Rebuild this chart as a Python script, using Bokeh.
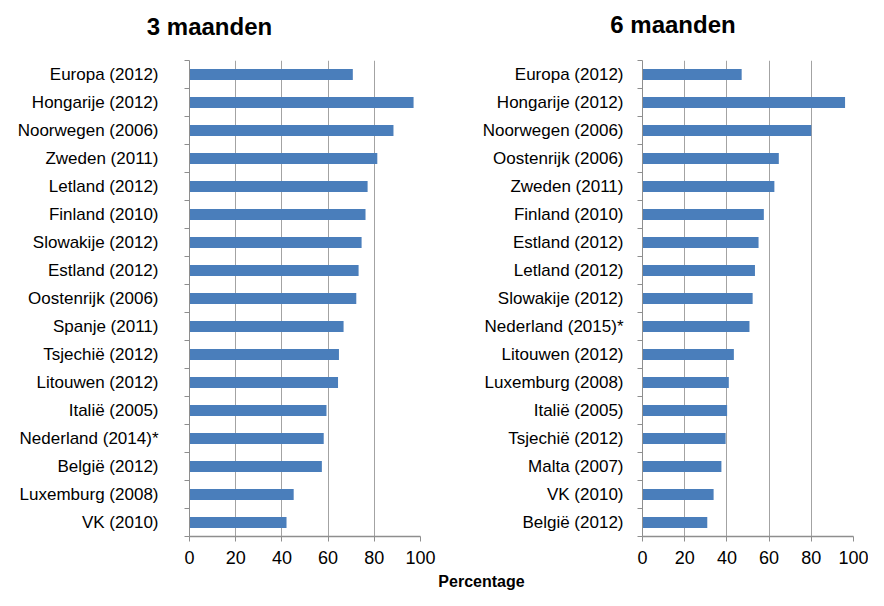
from bokeh.plotting import figure
from bokeh.models import Range1d, FixedTicker, ColumnDataSource
from bokeh.layouts import column, row
from bokeh.embed import file_html
from bokeh.resources import INLINE
from bokeh.core.properties import value

# ---- data ----
cats3 = ["Europa (2012)", "Hongarije (2012)", "Noorwegen (2006)", "Zweden (2011)",
         "Letland (2012)", "Finland (2010)", "Slowakije (2012)", "Estland (2012)",
         "Oostenrijk (2006)", "Spanje (2011)", "Tsjechië (2012)", "Litouwen (2012)",
         "Italië (2005)", "Nederland (2014)*", "België (2012)", "Luxemburg (2008)",
         "VK (2010)"]
vals3 = [70.7, 97.0, 88.3, 81.3, 77.1, 76.2, 74.5, 73.2, 72.2, 66.7, 64.7, 64.3,
         59.3, 58.1, 57.3, 45.1, 42.0]

cats6 = ["Europa (2012)", "Hongarije (2012)", "Noorwegen (2006)", "Oostenrijk (2006)",
         "Zweden (2011)", "Finland (2010)", "Estland (2012)", "Letland (2012)",
         "Slowakije (2012)", "Nederland (2015)*", "Litouwen (2012)", "Luxemburg (2008)",
         "Italië (2005)", "Tsjechië (2012)", "Malta (2007)", "VK (2010)", "België (2012)"]
vals6 = [47.0, 96.0, 80.0, 64.6, 62.5, 57.5, 55.0, 53.3, 52.2, 50.7, 43.3, 40.9,
         40.1, 39.4, 37.4, 33.7, 30.7]

x_ticks = [0, 20, 40, 60, 80, 100]
title3 = "3 maanden"
title6 = "6 maanden"
x_label = "Percentage"

FONT = "Liberation Sans"
BAR = "#4a7ebb"
GRID = "#a3a3a3"
AXIS = "#8e8e8e"
TOTAL_W = 868
HEAD_H = 52
FRAME_H = 476
BOTTOM_B = 35
MAIN_H = 8 + FRAME_H + BOTTOM_B
FOOT_H = 590 - HEAD_H - MAIN_H


def panel(cats, vals, width, bl, br, standoff):
    n = len(cats)
    p = figure(width=width, height=MAIN_H, output_backend="svg", toolbar_location=None,
               x_range=Range1d(0, 100), y_range=Range1d(n - 0.5, -0.5),
               min_border_left=bl, min_border_right=br,
               min_border_top=8, min_border_bottom=BOTTOM_B)
    p.outline_line_color = None
    src = ColumnDataSource(dict(y=list(range(n)), v=vals))
    p.hbar(y="y", left=0, right="v", height=0.4, source=src,
           fill_color=BAR, line_color=None)

    xa = p.xaxis[0]
    xa.ticker = FixedTicker(ticks=x_ticks, minor_ticks=[])
    xa.major_tick_out = 5
    xa.major_tick_in = 0
    xa.minor_tick_out = 0
    xa.minor_tick_in = 0
    xa.axis_line_color = AXIS
    xa.axis_line_width = 1.5
    xa.major_tick_line_color = AXIS
    xa.major_label_text_font = FONT
    xa.major_label_text_font_size = "18px"
    xa.major_label_text_color = "black"
    xa.major_label_standoff = 9

    ya = p.yaxis[0]
    ya.ticker = FixedTicker(ticks=list(range(n)),
                            minor_ticks=[k - 0.5 for k in range(n + 1)])
    ya.major_label_overrides = {i: c for i, c in enumerate(cats)}
    ya.major_tick_out = 0
    ya.major_tick_in = 0
    ya.minor_tick_out = 5
    ya.minor_tick_in = 0
    ya.minor_tick_line_color = AXIS
    ya.axis_line_color = AXIS
    ya.major_label_text_font = FONT
    ya.major_label_text_font_size = "17px"
    ya.major_label_text_color = "black"
    ya.major_label_standoff = standoff

    p.ygrid.visible = False
    p.xgrid.grid_line_color = GRID
    p.xgrid.grid_line_width = 1
    return p


LEFT_W = 436
RIGHT_FRAME_LEFT = 642
left = panel(cats3, vals3, LEFT_W, 189, LEFT_W - 189 - 231, 26)
right = panel(cats6, vals6, TOTAL_W - LEFT_W, RIGHT_FRAME_LEFT - LEFT_W, 15, 14)


def strip(h):
    s = figure(width=TOTAL_W, height=h, output_backend="svg", toolbar_location=None,
               x_range=Range1d(0, TOTAL_W), y_range=Range1d(h, 0),
               x_axis_type=None, y_axis_type=None, min_border=0)
    s.outline_line_color = None
    s.grid.visible = False
    return s


header = strip(HEAD_H)
header.text(x=[209], y=[26], text=[title3], text_align="center",
            text_baseline="middle", text_font=value(FONT), text_font_style="bold",
            text_font_size="24px", text_color="black")
header.text(x=[672.5], y=[24], text=[title6], text_align="center",
            text_baseline="middle", text_font=value(FONT), text_font_style="bold",
            text_font_size="24px", text_color="black")

footer = strip(FOOT_H)
footer.text(x=[481], y=[FOOT_H / 2], text=[x_label], text_align="center",
            text_baseline="middle", text_font=value(FONT), text_font_style="bold",
            text_font_size="16px", text_color="black")

layout = column(header, row(left, right), footer)
open("out.html", "w").write(file_html(layout, INLINE))
